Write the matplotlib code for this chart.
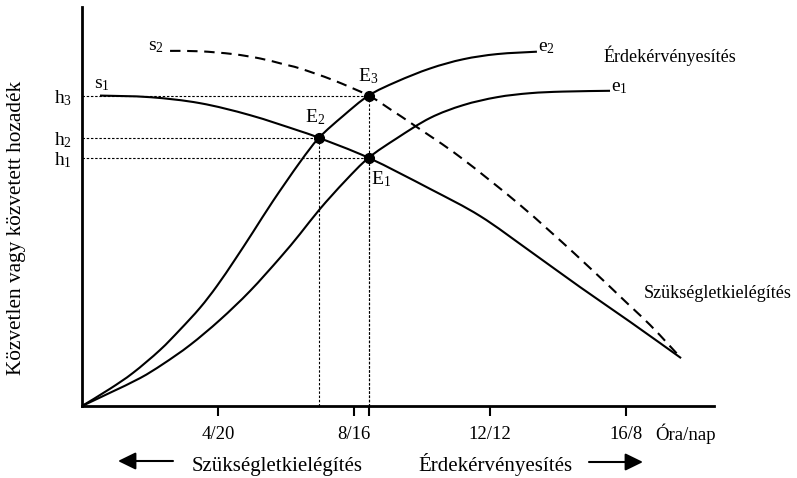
import matplotlib
matplotlib.use('Agg')
import matplotlib.pyplot as plt
from matplotlib.path import Path
from matplotlib.patches import PathPatch, FancyArrowPatch

plt.rcParams['font.family'] = ['Liberation Serif', 'DejaVu Serif']
plt.rcParams['mathtext.fontset'] = 'custom'
plt.rcParams['mathtext.rm'] = 'Liberation Serif'
plt.rcParams['mathtext.it'] = 'Liberation Serif:italic'
plt.rcParams['mathtext.bf'] = 'Liberation Serif:bold'

# ---- data (x: working hours per day, y: yield in arbitrary units) ----
s1_x = [0.53, 2.00, 3.47, 4.94, 6.41, 6.97, 8.43, 10.24, 11.71, 13.18, 14.65, 16.12, 17.62]
s1_y = [77.8, 77.4, 75.9, 72.9, 68.9, 67.2, 62.2, 54.4, 47.6, 38.8, 29.8, 21.1, 12.0]

s2_x = [2.59, 3.47, 4.44, 5.24, 5.91, 6.41, 7.38, 8.43, 9.06, 9.85, 11.12, 12.88, 14.50, 16.03, 16.71, 17.24, 17.62]
s2_y = [89.0, 88.9, 88.2, 87.1, 85.7, 84.6, 81.7, 77.8, 74.4, 69.9, 62.4, 50.4, 38.1, 25.8, 20.3, 15.5, 12.0]

e2_x = [0, 0.82, 1.50, 2.29, 2.88, 3.47, 3.97, 4.50, 5.03, 5.62, 6.41, 6.97, 7.68, 8.43,
        9.26, 10.24, 11.21, 12.21, 13.38]
e2_y = [0, 4.3, 8.3, 14.0, 19.1, 24.6, 30.1, 36.7, 43.6, 51.4, 61.1, 67.2, 72.7, 77.8,
        81.3, 84.6, 86.9, 88.2, 88.8]

e1_x = [0, 0.82, 1.71, 2.38, 3.18, 4.06, 4.94, 5.82, 6.41, 7.00, 7.74, 8.43, 9.26, 10.24,
        11.21, 12.21, 13.18, 14.15, 15.53]
e1_y = [0, 3.3, 7.0, 10.5, 15.3, 21.6, 28.8, 37.1, 43.1, 49.4, 56.4, 62.2, 67.1, 72.2,
        75.4, 77.4, 78.4, 78.8, 79.0]

E_names = ['E$_1$', 'E$_2$', 'E$_3$']
E_x = [8.43, 6.97, 8.43]
E_y = [62.2, 67.2, 77.8]

h_labels = ['h$_1$', 'h$_2$', 'h$_3$']
h_values = [62.2, 67.2, 77.8]

x_ticks = [4, 8, 12, 16]
x_tick_labels = ['4/20', '8/16', '12/12', '16/8']

W, H = 797, 478
fig = plt.figure(figsize=(W / 100, H / 100), dpi=100)
ax = fig.add_axes([82 / W, 72 / H, 632 / W, 399 / H])
ax.set_xlim(0, 632 / 34)
ax.set_ylim(0, 100)


def smooth_curve(xs, ys, **kw):
    """Draw a smooth Bezier path passing through the given points."""
    pts = list(zip(xs, ys))
    n = len(pts)
    verts = [pts[0]]
    codes = [Path.MOVETO]
    for i in range(n - 1):
        p0 = pts[i - 1] if i > 0 else pts[i]
        p1 = pts[i]
        p2 = pts[i + 1]
        p3 = pts[i + 2] if i + 2 < n else pts[i + 1]
        c1 = (p1[0] + (p2[0] - p0[0]) / 6, p1[1] + (p2[1] - p0[1]) / 6)
        c2 = (p2[0] - (p3[0] - p1[0]) / 6, p2[1] - (p3[1] - p1[1]) / 6)
        verts += [c1, c2, p2]
        codes += [Path.CURVE4] * 3
    patch = PathPatch(Path(verts, codes), fill=False, transform=ax.transData, **kw)
    ax.add_patch(patch)


lw = 1.5
dot = (0, (2.2, 1.6))
for ex, ey in zip(E_x, E_y):
    ax.plot([0, ex], [ey, ey], color='black', lw=0.8, linestyle=dot, zorder=1)
    ax.plot([ex, ex], [0, ey], color='black', lw=0.8, linestyle=dot, zorder=1)

smooth_curve(s1_x, s1_y, edgecolor='black', lw=lw, zorder=3)
smooth_curve(s2_x, s2_y, edgecolor='black', lw=lw, linestyle=(0, (5, 3.2)), zorder=3)
smooth_curve(e2_x, e2_y, edgecolor='black', lw=lw, zorder=3)
smooth_curve(e1_x, e1_y, edgecolor='black', lw=lw, zorder=3)
ax.plot(E_x, E_y, 'o', color='black', markersize=7, zorder=4)

fs_lab = 14
ax.annotate('s$_1$', (s1_x[0], s1_y[0]), xytext=(1, 2), textcoords='offset points',
            ha='center', va='bottom', fontsize=fs_lab)
ax.annotate('s$_2$', (s2_x[0], s2_y[0]), xytext=(-10, -3), textcoords='offset points',
            ha='center', va='bottom', fontsize=fs_lab)
ax.annotate('e$_2$', (e2_x[-1], e2_y[-1]), xytext=(1, -3), textcoords='offset points',
            ha='left', va='bottom', fontsize=fs_lab)
ax.annotate('e$_1$', (e1_x[-1], e1_y[-1]), xytext=(1, -4), textcoords='offset points',
            ha='left', va='bottom', fontsize=fs_lab)
E_off = [(9, -8), (-3, 8), (0, 7)]
E_va = ['top', 'bottom', 'bottom']
for name, ex, ey, off, va in zip(E_names, E_x, E_y, E_off, E_va):
    ax.annotate(name, (ex, ey), xytext=off, textcoords='offset points',
                ha='center', va=va, fontsize=fs_lab)

for side in ['top', 'right']:
    ax.spines[side].set_visible(False)
for side in ['left', 'bottom']:
    ax.spines[side].set_linewidth(2.0)
ax.set_xticks(x_ticks + [E_x[0]])
ax.set_xticklabels(x_tick_labels + [''])
ax.tick_params(axis='x', direction='out', length=7.5, width=1.5, pad=7, labelsize=13.5)
ax.set_yticks(h_values)
ax.set_yticklabels(h_labels)
ax.tick_params(axis='y', length=0, pad=7, labelsize=14)


def fx(px):
    return px / W


def fy(py):
    return 1 - py / H


fig.text(fx(686), fy(440), 'Óra/nap', ha='center', va='baseline', fontsize=13.5)
fig.text(fx(670), fy(62), 'Érdekérvényesítés', ha='center', va='baseline', fontsize=13)
fig.text(fx(718), fy(298), 'Szükségletkielégítés', ha='center', va='baseline', fontsize=13)
fig.text(fx(277), fy(471), 'Szükségletkielégítés', ha='center', va='baseline', fontsize=15)
fig.text(fx(495), fy(471), 'Érdekérvényesítés', ha='center', va='baseline', fontsize=15)
fig.text(fx(17), fy(228), 'Közvetlen vagy közvetett hozadék', ha='center', va='center',
         rotation=90, fontsize=15.3)

arrow = dict(arrowstyle='-|>,head_length=0.45,head_width=0.22', color='black', lw=1.5,
             shrinkA=0, shrinkB=0, mutation_scale=24)
fig.add_artist(FancyArrowPatch((fx(173), fy(461)), (fx(118), fy(461)),
                               transform=fig.transFigure, **arrow))
fig.add_artist(FancyArrowPatch((fx(589), fy(462)), (fx(643), fy(462)),
                               transform=fig.transFigure, **arrow))

fig.savefig('out.png', dpi=100)
